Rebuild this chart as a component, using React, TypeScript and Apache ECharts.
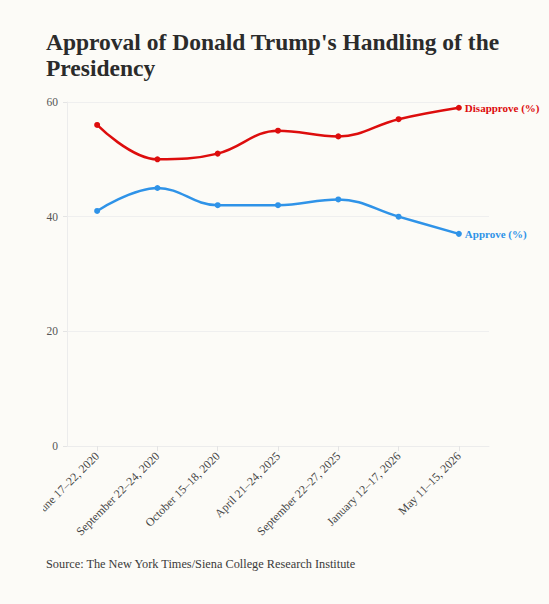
import React, { useEffect, useRef } from "react";
import * as echarts from "echarts";

const categories = [
  "June 17–22, 2020",
  "September 22–24, 2020",
  "October 15–18, 2020",
  "April 21–24, 2025",
  "September 22–27, 2025",
  "January 12–17, 2026",
  "May 11–15, 2026",
];
const disapprove = [56, 50, 51, 55, 54, 57, 59];
const approve = [41, 45, 42, 42, 43, 40, 37];
const yTicks = { min: 0, max: 60, interval: 20 };

const titleText = "Approval of Donald Trump's Handling of the\nPresidency";
const sourceText = "Source: The New York Times/Siena College Research Institute";

const RED = "#dd0d0d";
const BLUE = "#2f93e8";
const FONT = "'Liberation Serif', 'DejaVu Serif', serif";

export default function App() {
  const ref = useRef<HTMLDivElement>(null);
  useEffect(() => {
    if (!ref.current) return;
    const chart = echarts.init(ref.current, undefined, { renderer: "svg" });
    chart.setOption({
      animation: false,
      backgroundColor: "transparent",
      textStyle: { fontFamily: FONT },
      title: {
        text: titleText,
        left: 3,
        top: 29,
        padding: 0,
        textStyle: {
          fontFamily: FONT,
          fontWeight: "bold",
          fontSize: 23.5,
          lineHeight: 26,
          color: "#2b2b2b",
        },
      },
      graphic: [
        {
          type: "text",
          left: 3,
          top: 558,
          style: {
            text: sourceText,
            font: `12.3px ${FONT}`,
            fill: "#3a3a3a",
          },
        },
      ],
      grid: {
        left: 24,
        right: 60,
        top: 102,
        bottom: 158,
        containLabel: false,
        outerBoundsMode: "none",
      },
      xAxis: {
        type: "category",
        data: categories,
        boundaryGap: true,
        axisLine: { show: true, lineStyle: { color: "#ececec" } },
        axisTick: { show: true, alignWithLabel: true, length: 5, lineStyle: { color: "#e4e4e4" } },
        axisLabel: {
          rotate: 45,
          margin: 8,
          fontSize: 11.8,
          color: "#444",
          fontFamily: FONT,
          interval: 0,
        },
        splitLine: { show: false },
      },
      yAxis: {
        type: "value",
        min: yTicks.min,
        max: yTicks.max,
        interval: yTicks.interval,
        axisLine: { show: true, lineStyle: { color: "#ececec" } },
        axisTick: { show: true, length: 4, lineStyle: { color: "#e4e4e4" } },
        axisLabel: { margin: 9, fontSize: 11.5, color: "#555", fontFamily: FONT },
        splitLine: { show: true, lineStyle: { color: "#efefef" } },
      },
      series: [
        {
          name: "Disapprove (%)",
          type: "line",
          data: disapprove,
          smooth: 0.4,
          symbol: "circle",
          symbolSize: 6,
          lineStyle: { color: RED, width: 2.5 },
          itemStyle: { color: RED },
          endLabel: {
            show: true,
            formatter: "{a}",
            color: RED,
            fontWeight: "bold",
            fontSize: 11,
            fontFamily: FONT,
            distance: 6,
          },
        },
        {
          name: "Approve (%)",
          type: "line",
          data: approve,
          smooth: 0.4,
          symbol: "circle",
          symbolSize: 6,
          lineStyle: { color: BLUE, width: 2.5 },
          itemStyle: { color: BLUE },
          endLabel: {
            show: true,
            formatter: "{a}",
            color: BLUE,
            fontWeight: "bold",
            fontSize: 11,
            fontFamily: FONT,
            distance: 6,
          },
        },
      ],
    });
    return () => chart.dispose();
  }, []);

  return (
    <div style={{ position: "fixed", inset: 0, background: "#fcfbf7", overflow: "hidden" }}>
      <div
        ref={ref}
        style={{ position: "absolute", left: 43, top: 0, width: 506, height: 604 }}
      />
    </div>
  );
}
